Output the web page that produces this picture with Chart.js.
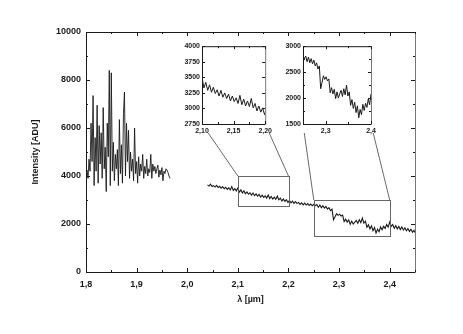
<!DOCTYPE html>
<html>
<head>
<meta charset="utf-8">
<script src="https://cdn.jsdelivr.net/npm/chart.js@4.4.1/dist/chart.umd.min.js"></script>
<style>
  html, body { margin: 0; padding: 0; background: #fff; }
  #wrap { position: relative; width: 463px; height: 334px; }
  #wrap canvas { position: absolute; }
</style>
</head>
<body>
<div id="wrap">
  <canvas id="main" width="463" height="334" style="left:0;top:0"></canvas>
  <canvas id="in1" width="105" height="100" style="left:170px;top:40px"></canvas>
  <canvas id="in2" width="105" height="100" style="left:275px;top:40px"></canvas>
</div>
<script>
// --- spectrum, short-wave part (1.80 - 1.966 µm) ---
const seg1X = [1.800,1.802,1.804,1.806,1.808,1.810,1.812,1.814,1.816,1.818,
  1.820,1.822,1.824,1.826,1.828,1.830,1.832,1.834,1.836,1.838,
  1.840,1.842,1.844,1.846,1.848,1.850,1.852,1.854,1.856,1.858,
  1.860,1.862,1.864,1.866,1.868,1.870,1.872,1.874,1.876,1.878,
  1.880,1.882,1.884,1.886,1.888,1.890,1.892,1.894,1.896,1.898,
  1.900,1.902,1.904,1.906,1.908,1.910,1.912,1.914,1.916,1.918,
  1.920,1.922,1.924,1.926,1.928,1.930,1.932,1.934,1.936,1.938,
  1.940,1.942,1.944,1.946,1.948,1.950,1.952,1.954,1.956,1.958,
  1.960,1.962,1.964,1.966];
const seg1Y = [4000,4250,3900,4700,4200,6200,4600,7350,3600,5600,
  4200,6950,3700,6100,4500,5800,3900,6850,4300,5200,
  3350,6200,4800,8400,3600,8300,4200,5400,3800,4900,
  4300,5100,3600,6350,4100,5300,3700,6600,7500,4000,
  6200,4600,5900,3900,5000,4200,4700,3800,6000,4100,
  4600,3700,4800,4000,4500,4200,4900,3900,4400,4100,
  4700,4000,4300,4150,4900,3900,4500,4200,4400,4100,
  4300,4450,3950,4250,4050,4350,3800,4200,4100,4300,
  4250,4150,4000,3900];

// --- spectrum, long-wave part (2.04 - 2.45 µm) ---
const seg2X = [2.040,2.043,2.046,2.049,2.052,2.055,2.058,2.061,2.064,2.067,
  2.070,2.073,2.076,2.079,2.082,2.085,2.088,2.091,2.094,2.097,
  2.100,2.103,2.106,2.109,2.112,2.115,2.118,2.121,2.124,2.127,
  2.130,2.133,2.136,2.139,2.142,2.145,2.148,2.151,2.154,2.157,
  2.160,2.163,2.166,2.169,2.172,2.175,2.178,2.181,2.184,2.187,
  2.190,2.193,2.196,2.199,2.202,2.205,2.208,2.211,2.214,2.217,
  2.220,2.223,2.226,2.229,2.232,2.235,2.238,2.241,2.244,2.247,
  2.250,2.253,2.256,2.259,2.262,2.265,2.268,2.271,2.274,2.277,
  2.280,2.283,2.286,2.289,2.292,2.295,2.298,2.301,2.304,2.307,
  2.310,2.313,2.316,2.319,2.322,2.325,2.328,2.331,2.334,2.337,
  2.340,2.343,2.346,2.349,2.352,2.355,2.358,2.361,2.364,2.367,
  2.370,2.373,2.376,2.379,2.382,2.385,2.388,2.391,2.394,2.397,
  2.400,2.403,2.406,2.409,2.412,2.415,2.418,2.421,2.424,2.427,
  2.430,2.433,2.436,2.439,2.442,2.445,2.448,2.450];
const seg2Y = [3630,3580,3660,3560,3600,3540,3610,3520,3570,3490,
  3560,3470,3530,3440,3510,3420,3560,3400,3470,3380,
  3500,3330,3420,3290,3380,3260,3340,3240,3300,3200,
  3290,3180,3250,3160,3230,3120,3200,3110,3170,3080,
  3210,3060,3150,3040,3120,3030,3160,3010,3080,2960,
  3040,2940,3010,2900,2980,2880,2950,2860,2930,2850,
  2900,2820,2880,2800,2870,2790,2850,2770,2830,2760,
  2820,2760,2810,2700,2790,2680,2760,2660,2730,2620,
  2680,2560,2620,2180,2300,2430,2360,2410,2330,2370,
  2100,2200,2080,2170,1990,2120,2000,2080,2150,2030,
  2180,2060,2250,2040,2120,1860,1970,1800,1920,1720,
  1850,1620,1780,1680,1880,1760,1900,1820,1980,1870,
  2080,1900,1980,1820,1930,1800,1900,1770,1880,1750,
  1840,1720,1810,1690,1780,1660,1740,1640];

// --- axes ---
const mainXTicks  = [1.8, 1.9, 2.0, 2.1, 2.2, 2.3, 2.4];
const mainXLabels = ['1,8', '1,9', '2,0', '2,1', '2,2', '2,3', '2,4'];
const mainXMinor  = [1.85, 1.95, 2.05, 2.15, 2.25, 2.35, 2.45];
const mainYTicks  = [0, 2000, 4000, 6000, 8000, 10000];
const mainYMinor  = [1000, 3000, 5000, 7000, 9000];

const in1XTicks  = [2.10, 2.15, 2.20];
const in1XLabels = ['2,10', '2,15', '2,20'];
const in1XMinor  = [2.125, 2.175];
const in1YTicks  = [2750, 3000, 3250, 3500, 3750, 4000];
const in1YMinor  = [];
const in2XTicks  = [2.30, 2.40];
const in2XLabels = ['2,3', '2,4'];
const in2XMinor  = [2.25, 2.35];
const in2YTicks  = [1500, 2000, 2500, 3000];
const in2YMinor  = [1750, 2250, 2750];

// zoom windows: [xmin, xmax, ymin, ymax]
const box1 = [2.10, 2.20, 2750, 4000];
const box2 = [2.25, 2.40, 1500, 3000];

const FONT = "'Liberation Sans', Arial, sans-serif";
const INK = '#1a1a1a';

const pts = (xs, ys) => xs.map((x, i) => ({ x, y: ys[i] }));

function lineSet(xs, ys, w) {
  return { data: pts(xs, ys), showLine: true, pointRadius: 0, borderColor: INK, borderWidth: w, tension: 0 };
}

// inward tick marks on all four sides
function drawTicks(chart, xs, xm, ys, ym, big, small) {
  const { ctx, chartArea: a, scales: { x, y } } = chart;
  ctx.save();
  ctx.strokeStyle = INK;
  ctx.lineWidth = 1;
  ctx.beginPath();
  const vx = (vals, len) => vals.forEach((v) => {
    const p = Math.round(x.getPixelForValue(v)) + 0.5;
    ctx.moveTo(p, a.bottom); ctx.lineTo(p, a.bottom - len);
    ctx.moveTo(p, a.top);    ctx.lineTo(p, a.top + len);
  });
  const vy = (vals, len) => vals.forEach((v) => {
    const p = Math.round(y.getPixelForValue(v)) + 0.5;
    ctx.moveTo(a.left, p);  ctx.lineTo(a.left + len, p);
    ctx.moveTo(a.right, p); ctx.lineTo(a.right - len, p);
  });
  vx(xs, big); vx(xm, small); vy(ys, big); vy(ym, small);
  ctx.stroke();
  ctx.restore();
}

function drawFrame(chart) {
  const { ctx, chartArea: a } = chart;
  ctx.save();
  ctx.lineWidth = 1;
  ctx.strokeStyle = INK;
  ctx.beginPath();
  ctx.moveTo(a.left + 0.5, a.top + 0.5);
  ctx.lineTo(a.left + 0.5, a.bottom + 0.5);
  ctx.lineTo(a.right + 0.5, a.bottom + 0.5);
  ctx.moveTo(a.left + 0.5, a.top + 0.5);
  ctx.lineTo(a.right + 0.5, a.top + 0.5);
  ctx.stroke();
  ctx.strokeStyle = '#777';
  ctx.beginPath();
  ctx.moveTo(a.right + 0.5, a.top + 0.5);
  ctx.lineTo(a.right + 0.5, a.bottom + 0.5);
  ctx.stroke();
  ctx.restore();
}

function scaleBox(size, key) {
  return (s) => { s[key] = size; };
}

const plain = (v) => String(v);

// ---------- insets ----------
function makeInset(id, left, top, yWidth, padRight, box, xt, xl, xm, yt, ym) {
  const chart = new Chart(document.getElementById(id), {
    type: 'scatter',
    data: { datasets: [lineSet(seg2X, seg2Y, 1)] },
    options: {
      responsive: false, animation: false,
      layout: { padding: { top: 6, right: padRight, left: 0, bottom: 0 } },
      plugins: { legend: { display: false }, tooltip: { enabled: false } },
      scales: {
        x: {
          type: 'linear', min: box[0], max: box[1],
          grid: { display: false, drawTicks: false }, border: { display: false },
          afterBuildTicks: (s) => { s.ticks = xt.map((v) => ({ value: v })); },
          afterFit: scaleBox(16, 'height'),
          ticks: { padding: 3, color: INK, font: { family: FONT, size: 7, weight: 'bold' }, maxRotation: 0,
                   callback: (v, i) => xl[i] },
        },
        y: {
          min: box[2], max: box[3],
          grid: { display: false, drawTicks: false }, border: { display: false },
          afterBuildTicks: (s) => { s.ticks = yt.map((v) => ({ value: v })); },
          afterFit: scaleBox(yWidth, 'width'),
          ticks: { padding: 2, color: INK, font: { family: FONT, size: 7, weight: 'bold' }, callback: plain },
        },
      },
    },
    plugins: [{
      id: 'insetFrame',
      afterDraw(c) {
        drawFrame(c);
        drawTicks(c, xt, xm, yt, ym, 3, 2);
      },
    }],
  });
  chart.pageLeft = left;
  chart.pageTop = top;
  chart.box = box;
  return chart;
}

const inset1 = makeInset('in1', 170, 40, 32, 6, box1, in1XTicks, in1XLabels, in1XMinor, in1YTicks, in1YMinor);
const inset2 = makeInset('in2', 275, 40, 28, 9, box2, in2XTicks, in2XLabels, in2XMinor, in2YTicks, in2YMinor);

// ---------- main chart ----------
const zoomPlugin = {
  id: 'zoomBoxes',
  afterDraw(chart) {
    const { ctx, scales: { x, y } } = chart;
    drawFrame(chart);
    drawTicks(chart, mainXTicks, mainXMinor, mainYTicks, mainYMinor, 4, 2);
    ctx.save();
    [inset1, inset2].forEach((ins) => {
      const b = ins.box;
      const x0 = x.getPixelForValue(b[0]), x1 = x.getPixelForValue(b[1]);
      const y0 = y.getPixelForValue(b[2]), y1 = y.getPixelForValue(b[3]);
      ctx.strokeStyle = '#666';
      ctx.lineWidth = 1;
      ctx.strokeRect(Math.round(x0) + 0.5, Math.round(y1) + 0.5, Math.round(x1 - x0), Math.round(y0 - y1));
      // connectors from inset bottom corners to the box top corners
      const a = ins.chartArea;
      const bl = [ins.pageLeft + a.left, ins.pageTop + a.bottom];
      const br = [ins.pageLeft + a.right, ins.pageTop + a.bottom];
      ctx.strokeStyle = '#444';
      ctx.lineWidth = 0.8;
      ctx.beginPath();
      [[bl, x0], [br, x1]].forEach(([c, tx]) => {
        const t = 9 / (y1 - c[1]);
        ctx.moveTo(c[0] + (tx - c[0]) * t, c[1] + 9);
        ctx.lineTo(tx, y1);
      });
      ctx.stroke();
    });
    ctx.restore();
  },
};

new Chart(document.getElementById('main'), {
  type: 'scatter',
  data: { datasets: [lineSet(seg1X, seg1Y, 0.9), lineSet(seg2X, seg2Y, 1.1)] },
  options: {
    responsive: false, animation: false,
    layout: { padding: { top: 32, right: 48, left: 0, bottom: 0 } },
    plugins: { legend: { display: false }, tooltip: { enabled: false } },
    scales: {
      x: {
        type: 'linear', min: 1.8, max: 2.45,
        grid: { display: false, drawTicks: false }, border: { display: false },
        afterBuildTicks: (s) => { s.ticks = mainXTicks.map((v) => ({ value: v })); },
        afterFit: scaleBox(62, 'height'),
        ticks: { padding: 7, color: INK, maxRotation: 0, font: { family: FONT, size: 9, weight: 'bold' },
                 callback: (v, i) => mainXLabels[i] },
        title: { display: true, text: 'λ [µm]', color: INK, font: { family: FONT, size: 9, weight: 'bold' },
                 padding: { top: 0, bottom: 29 } },
      },
      y: {
        min: 0, max: 10000,
        grid: { display: false, drawTicks: false }, border: { display: false },
        afterBuildTicks: (s) => { s.ticks = mainYTicks.map((v) => ({ value: v })); },
        afterFit: scaleBox(86, 'width'),
        ticks: { padding: 5, color: INK, font: { family: FONT, size: 9, weight: 'bold' }, callback: plain },
        title: { display: true, text: 'Intensity [ADU]', color: INK, font: { family: FONT, size: 9, weight: 'bold' },
                 padding: { top: 30, bottom: 0 } },
      },
    },
  },
  plugins: [zoomPlugin],
});
</script>
</body>
</html>
